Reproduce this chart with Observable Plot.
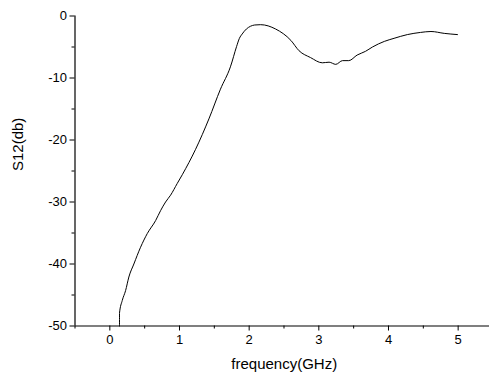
<!DOCTYPE html>
<html>
<head>
<meta charset="utf-8">
<script src="https://cdn.jsdelivr.net/npm/d3@7"></script>
<script src="https://cdn.jsdelivr.net/npm/@observablehq/plot@0.6"></script>
<style>
  html, body { margin: 0; padding: 0; background: #fff; }
</style>
</head>
<body>
<div id="chart"></div>
<script>
const freq = [0.139, 0.139, 0.178, 0.226, 0.273, 0.345, 0.441, 0.537, 0.657, 0.728, 0.80, 0.872, 0.968, 1.04, 1.231, 1.422, 1.588, 1.731, 1.82, 1.86, 1.90, 1.96, 2.02, 2.08, 2.165, 2.38, 2.6, 2.716, 2.88, 3.05, 3.147, 3.243, 3.34, 3.43, 3.55, 3.67, 3.77, 3.94, 4.08, 4.27, 4.46, 4.61, 4.80, 4.99];
const s12 = [-50, -47.9, -45.9, -44.3, -42.1, -40.0, -37.3, -35.1, -33.0, -31.4, -30.0, -28.9, -27.0, -25.6, -21.5, -16.6, -11.8, -8.2, -4.9, -3.6, -2.9, -2.1, -1.65, -1.45, -1.4, -2.1, -3.95, -5.6, -6.7, -7.55, -7.45, -7.8, -7.2, -7.2, -6.3, -5.7, -5.0, -4.1, -3.6, -3.0, -2.65, -2.5, -2.8, -3.0];
const xMajor = [0, 1, 2, 3, 4, 5];
const xMinor = [-0.5, 0.5, 1.5, 2.5, 3.5, 4.5];
const yMajor = [0, -10, -20, -30, -40, -50];
const yMinor = [-5, -15, -25, -35, -45];
const xLabel = ["frequency(GHz)"];
const yLabel = ["S12(db)"];

const data = freq.map((f, i) => ({f, s: s12[i]}));

const chart = Plot.plot({
  width: 489,
  height: 376,
  marginLeft: 74.5,
  marginRight: 0,
  marginTop: 15.5,
  marginBottom: 50.5,
  style: {fontFamily: "Liberation Sans, Arial, sans-serif", fontSize: "13px", color: "#000", background: "#fff"},
  x: {domain: [-0.5, 5.45]},
  y: {domain: [-50, 0]},
  marks: [
    Plot.axisX(xMajor, {tickSize: 5, tickPadding: 4, tickFormat: d => String(d), label: null, fontSize: 13}),
    Plot.axisX(xMinor, {tickSize: 3, tickFormat: () => "", label: null}),
    Plot.axisY(yMajor, {tickSize: 5, tickPadding: 3, tickFormat: d => String(d), label: null, fontSize: 13}),
    Plot.axisY(yMinor, {tickSize: 3, tickFormat: () => "", label: null}),
    Plot.text(xLabel, {frameAnchor: "bottom", dy: 38, lineAnchor: "middle", fontSize: 15, dx: 2}),
    Plot.text(yLabel, {frameAnchor: "left", dx: -57, rotate: -90, lineAnchor: "middle", fontSize: 15}),
    Plot.ruleY([-50], {stroke: "#000", strokeWidth: 1.2}),
    Plot.ruleX([-0.5], {y1: -50, y2: 0, stroke: "#000", strokeWidth: 1.2}),
    Plot.line(data, {x: "f", y: "s", stroke: "#000", strokeWidth: 1, curve: "monotone-x"})
  ]
});
document.getElementById("chart").appendChild(chart);
</script>
</body>
</html>
